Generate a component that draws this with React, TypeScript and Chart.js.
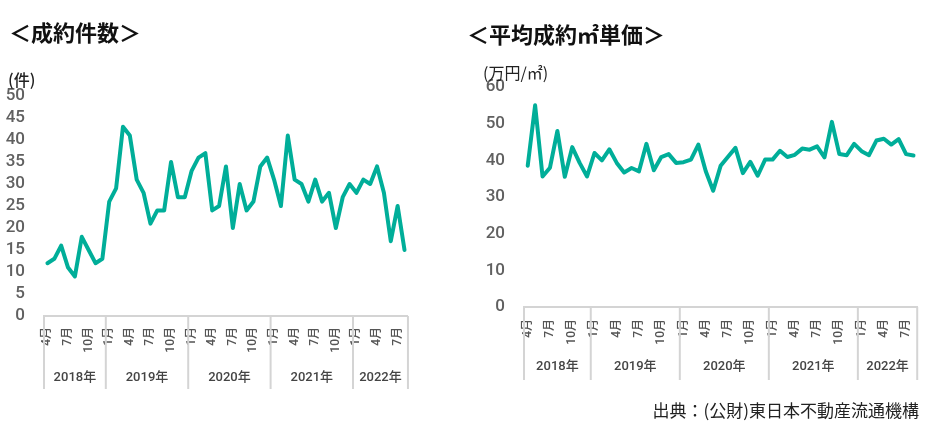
import { useEffect, useRef } from "react";
import { Chart, registerables } from "chart.js";

Chart.register(...registerables);

// one category per month, 2018/4 .. 2022/8
const categories = [
  "2018/4", "2018/5", "2018/6", "2018/7", "2018/8", "2018/9", "2018/10", "2018/11", "2018/12",
  "2019/1", "2019/2", "2019/3", "2019/4", "2019/5", "2019/6", "2019/7", "2019/8", "2019/9", "2019/10", "2019/11", "2019/12",
  "2020/1", "2020/2", "2020/3", "2020/4", "2020/5", "2020/6", "2020/7", "2020/8", "2020/9", "2020/10", "2020/11", "2020/12",
  "2021/1", "2021/2", "2021/3", "2021/4", "2021/5", "2021/6", "2021/7", "2021/8", "2021/9", "2021/10", "2021/11", "2021/12",
  "2022/1", "2022/2", "2022/3", "2022/4", "2022/5", "2022/6", "2022/7", "2022/8",
];

const shownMonths = ["1", "4", "7", "10"];
const yearLabels = ["2018年", "2019年", "2020年", "2021年", "2022年"];

const contractCounts = [
  12, 13, 16, 11, 9, 18, 15, 12, 13,
  26, 29, 43, 41, 31, 28, 21, 24, 24, 35, 27, 27,
  33, 36, 37, 24, 25, 34, 20, 30, 24, 26, 34, 36,
  31, 25, 41, 31, 30, 26, 31, 26, 28, 20, 27, 30,
  28, 31, 30, 34, 28, 17, 25, 15,
];

const unitPrices = [
  38.5, 55, 35.6, 38, 48, 35.5, 43.6, 39.3, 35.6,
  42, 40, 43, 39.3, 36.7, 37.9, 37, 44.5, 37.3, 40.9, 41.7, 39.3,
  39.5, 40.2, 44.3, 37, 31.7, 38.5, 41, 43.4, 36.5, 39.6, 35.8, 40.2,
  40.2, 42.6, 40.9, 41.5, 43.2, 42.9, 43.8, 40.8, 50.5, 41.7, 41.4, 44.5,
  42.5, 41.4, 45.4, 45.9, 44.3, 45.8, 41.7, 41.3,
];

const LINE = "#00ae99";
const GRAY_LINE = "#d4d4d4";
const TICK_FONT = "Roboto, 'Noto Sans CJK JP', sans-serif";
const JP_FONT = "'Noto Sans CJK JP', sans-serif";

// year group row under the month ticks
const yearGroups = {
  id: "yearGroups",
  afterDraw(chart: any, _args: any, opts: any) {
    const { ctx, chartArea, scales } = chart;
    const x = scales.x;
    const labels = chart.data.labels as string[];
    const bounds: number[] = [chartArea.left];
    labels.forEach((l, i) => {
      if (i > 0 && l.endsWith("/1")) {
        bounds.push((x.getPixelForValue(i - 1) + x.getPixelForValue(i)) / 2);
      }
    });
    bounds.push(chartArea.right);

    ctx.save();
    ctx.strokeStyle = GRAY_LINE;
    ctx.lineWidth = 2;
    bounds.forEach((b) => {
      ctx.beginPath();
      ctx.moveTo(b, chartArea.bottom);
      ctx.lineTo(b, chartArea.bottom + opts.lineLength);
      ctx.stroke();
    });
    ctx.fillStyle = "#444";
    ctx.font = `500 13px ${TICK_FONT}`;
    ctx.textAlign = "center";
    ctx.textBaseline = "middle";
    yearLabels.forEach((t, i) => {
      ctx.fillText(t, (bounds[i] + bounds[i + 1]) / 2, chartArea.bottom + opts.labelOffset);
    });
    ctx.restore();
  },
};

interface PanelProps {
  values: number[];
  max: number;
  step: number;
  left: number;
  width: number;
  height: number;
  padTop: number;
  padRight: number;
  yWidth: number;
  xHeight: number;
  lineLength: number;
  labelOffset: number;
  monthPad: number;
}

const LinePanel = ({ values, max, step, left, width, height, padTop, padRight, yWidth, xHeight, lineLength, labelOffset, monthPad }: PanelProps) => {
  const ref = useRef<HTMLCanvasElement>(null);

  useEffect(() => {
    if (!ref.current) return;
    const chart = new Chart(ref.current, {
      type: "line",
      data: {
        labels: categories,
        datasets: [
          {
            data: values,
            borderColor: LINE,
            borderWidth: 4,
            pointRadius: 0,
            tension: 0,
            borderJoinStyle: "round",
            borderCapStyle: "round",
          },
        ],
      },
      options: {
        animation: false,
        responsive: false,
        layout: { padding: { top: padTop, right: padRight, left: 0, bottom: 0 } },
        plugins: {
          legend: { display: false },
          tooltip: { enabled: false },
          yearGroups: { lineLength, labelOffset },
        } as any,
        scales: {
          x: {
            type: "category",
            offset: true,
            grid: { display: false, drawTicks: false },
            border: { display: true, color: GRAY_LINE, width: 2 },
            afterFit: (s: any) => {
              s.height = xHeight;
            },
            ticks: {
              autoSkip: false,
              minRotation: 90,
              maxRotation: 90,
              padding: monthPad,
              color: "#555",
              font: { family: TICK_FONT, size: 12, weight: 500 },
              callback: (_v: any, i: number) => {
                const m = categories[i].split("/")[1];
                return shownMonths.includes(m) ? `${m}月` : "";
              },
            },
          },
          y: {
            min: 0,
            max,
            grid: { display: false, drawTicks: false },
            border: { display: false },
            afterFit: (s: any) => {
              s.width = yWidth;
            },
            ticks: {
              autoSkip: false,
              stepSize: step,
              padding: 19,
              color: "#606060",
              font: { family: TICK_FONT, size: 17, weight: 500 },
            },
          },
        },
      },
      plugins: [yearGroups],
    });
    return () => {
      chart.destroy();
    };
  }, [values]);

  return (
    <canvas
      ref={ref}
      width={width}
      height={height}
      style={{ position: "absolute", left, top: 0, width, height }}
    />
  );
};

export default function App() {
  useEffect(() => {
    document.body.style.margin = "0";
  }, []);

  const text = (s: string, style: React.CSSProperties) => (
    <div style={{ position: "absolute", whiteSpace: "nowrap", fontFamily: JP_FONT, lineHeight: 1, ...style }}>{s}</div>
  );

  return (
    <div style={{ position: "relative", width: 941, height: 437, background: "#fff", overflow: "hidden" }}>
      <LinePanel
        values={contractCounts}
        max={50}
        step={5}
        left={0}
        width={430}
        height={400}
        padTop={96}
        padRight={9}
        yWidth={44}
        xHeight={84}
        lineLength={73}
        labelOffset={62}
        monthPad={11}
      />
      <LinePanel
        values={unitPrices}
        max={60}
        step={10}
        left={470}
        width={470}
        height={400}
        padTop={87}
        padRight={10}
        yWidth={54}
        xHeight={93}
        lineLength={73}
        labelOffset={60}
        monthPad={12}
      />
      {text("＜成約件数＞", { left: 9, top: 20, fontSize: 22, fontWeight: 700, color: "#111" })}
      {text("＜平均成約㎡単価＞", { left: 467, top: 22, fontSize: 22, fontWeight: 700, color: "#111" })}
      {text("(件)", { left: 8, top: 71, fontSize: 16, fontWeight: 500, color: "#222" })}
      {text("(万円/㎡)", { left: 483, top: 64, fontSize: 16, color: "#222" })}
      {text("出典：(公財)東日本不動産流通機構", { right: 22, top: 401, fontSize: 17, color: "#222" })}
    </div>
  );
}
